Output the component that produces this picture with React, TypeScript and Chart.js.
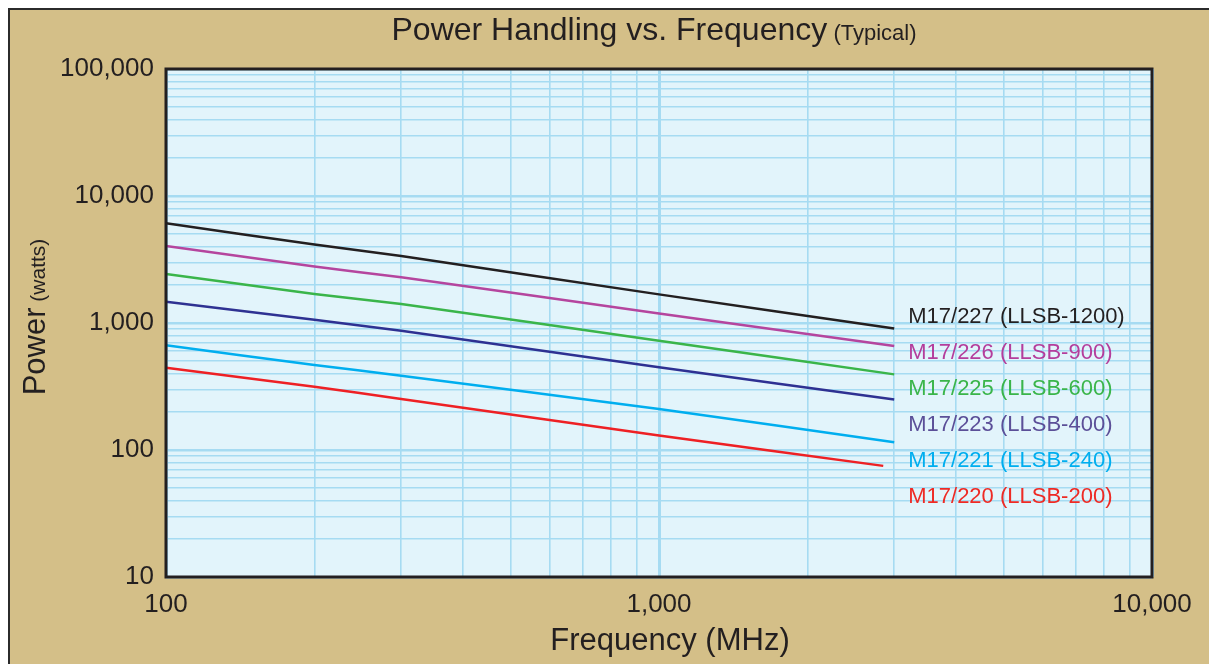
import React, { useEffect, useRef } from "react";
import { Chart, registerables } from "chart.js";

Chart.register(...registerables);

// ---- data ----
const frequencies = [100, 200, 300, 1000, 3000];
const redFrequencies = [100, 200, 300, 1000, 2850];

const seriesNames = [
  "M17/227 (LLSB-1200)",
  "M17/226 (LLSB-900)",
  "M17/225 (LLSB-600)",
  "M17/223 (LLSB-400)",
  "M17/221 (LLSB-240)",
  "M17/220 (LLSB-200)",
];
const m17_227 = [6100, 4150, 3370, 1680, 905];
const m17_226 = [4040, 2780, 2290, 1190, 660];
const m17_225 = [2430, 1690, 1410, 726, 394];
const m17_223 = [1470, 1060, 870, 448, 250];
const m17_221 = [667, 467, 385, 210, 115];
const m17_220 = [445, 315, 252, 130, 75];

const lineColors = ["#231f20", "#b5459e", "#3ab54a", "#2e3192", "#00aeef", "#ee2024"];
const labelColors = ["#231f20", "#b43d9c", "#3ab54a", "#5b4f98", "#00aeef", "#ee2a24"];

const xMajorTicks = [100, 1000, 10000];
const yMajorTicks = [10, 100, 1000, 10000, 100000];
const multipliers = [1, 2, 3, 4, 5, 6, 7, 8, 9];

const FONT = "'Liberation Sans', Arial, Helvetica, sans-serif";
const TAN = "#d4bf88";
const PLOT_BG = "#e2f4fb";
const GRID = "#a6dbf2";
const DARK = "#231f20";

function buildTicks(majors: number[]) {
  const out: number[] = [];
  majors.forEach((m, i) => {
    if (i === majors.length - 1) {
      out.push(m);
    } else {
      multipliers.forEach((k) => out.push(m * k));
    }
  });
  return out;
}

const isMajor = (v: number, majors: number[]) => majors.some((m) => Math.abs(m - v) < 1e-6);

const customPlugin = {
  id: "customDecor",
  beforeDraw(chart: any) {
    const { ctx, chartArea } = chart;
    ctx.save();
    ctx.fillStyle = TAN;
    ctx.fillRect(0, 0, chart.width, chart.height);
    ctx.fillStyle = PLOT_BG;
    ctx.fillRect(chartArea.left, chartArea.top, chartArea.right - chartArea.left, chartArea.bottom - chartArea.top);
    ctx.restore();
  },
  afterDraw(chart: any) {
    const { ctx, chartArea, scales } = chart;
    ctx.save();
    // plot border
    ctx.strokeStyle = DARK;
    ctx.lineWidth = 3;
    ctx.strokeRect(chartArea.left, chartArea.top, chartArea.right - chartArea.left, chartArea.bottom - chartArea.top);

    // title
    ctx.fillStyle = DARK;
    ctx.textBaseline = "middle";
    const t1 = "Power Handling vs. Frequency";
    const t2 = " (Typical)";
    ctx.font = `32px ${FONT}`;
    const w1 = ctx.measureText(t1).width;
    ctx.font = `22px ${FONT}`;
    const w2 = ctx.measureText(t2).width;
    const cx = (chartArea.left + chartArea.right) / 2 - 5;
    const sx = cx - (w1 + w2) / 2;
    ctx.textAlign = "left";
    ctx.font = `32px ${FONT}`;
    ctx.fillText(t1, sx, 21);
    ctx.font = `22px ${FONT}`;
    ctx.fillText(t2, sx + w1, 24);

    // x axis title
    ctx.font = `31px ${FONT}`;
    ctx.textAlign = "center";
    ctx.fillText("Frequency (MHz)", (chartArea.left + chartArea.right) / 2 + 11, 631);

    // y axis title (rotated)
    ctx.save();
    ctx.translate(26, (chartArea.top + chartArea.bottom) / 2);
    ctx.rotate(-Math.PI / 2);
    const y1 = "Power";
    const y2 = " (watts)";
    ctx.font = `31px ${FONT}`;
    const yw1 = ctx.measureText(y1).width;
    ctx.font = `21px ${FONT}`;
    const yw2 = ctx.measureText(y2).width;
    const ys = -(yw1 + yw2) / 2 + 6;
    ctx.textAlign = "left";
    ctx.font = `31px ${FONT}`;
    ctx.fillText(y1, ys, 0);
    ctx.font = `21px ${FONT}`;
    ctx.fillText(y2, ys + yw1, 3);
    ctx.restore();

    // series labels
    const xs = scales.x;
    const ysc = scales.y;
    const lx = xs.getPixelForValue(frequencies[frequencies.length - 1]) + 14;
    const ly0 = ysc.getPixelForValue(m17_227[m17_227.length - 1]) - 12;
    ctx.font = `22px ${FONT}`;
    ctx.textAlign = "left";
    ctx.textBaseline = "middle";
    seriesNames.forEach((name, i) => {
      ctx.fillStyle = labelColors[i];
      ctx.fillText(name, lx, ly0 + i * 36);
    });
    ctx.restore();
  },
};

export default function App() {
  const canvasRef = useRef<HTMLCanvasElement | null>(null);

  useEffect(() => {
    if (!canvasRef.current) return;
    const allSeries = [m17_227, m17_226, m17_225, m17_223, m17_221, m17_220];
    const datasets = allSeries.map((vals, i) => {
      const fx = i === 5 ? redFrequencies : frequencies;
      return {
        label: seriesNames[i],
        data: vals.map((v, j) => ({ x: fx[j], y: v })),
        borderColor: lineColors[i],
        backgroundColor: lineColors[i],
        borderWidth: 2.5,
        pointRadius: 0,
        tension: 0.15,
        fill: false,
      };
    });

    const xTicks = buildTicks(xMajorTicks);
    const yTicks = buildTicks(yMajorTicks);

    const chart = new Chart(canvasRef.current, {
      type: "line",
      data: { datasets },
      plugins: [customPlugin],
      options: {
        animation: false,
        responsive: false,
        devicePixelRatio: 1,
        layout: { padding: { top: 59, right: 65, left: 0, bottom: 0 } },
        plugins: { legend: { display: false }, tooltip: { enabled: false } },
        scales: {
          x: {
            type: "logarithmic",
            min: 100,
            max: 10000,
            afterBuildTicks: (scale: any) => {
              scale.ticks = xTicks.map((v) => ({ value: v }));
            },
            afterFit: (scale: any) => {
              scale.height = 87;
            },
            ticks: {
              autoSkip: false,
              maxRotation: 0,
              padding: 12,
              color: DARK,
              font: { family: FONT, size: 26 },
              callback: (value: any) => (isMajor(Number(value), xMajorTicks) ? Number(value).toLocaleString("en-US") : ""),
            },
            grid: {
              drawTicks: false,
              color: GRID,
              lineWidth: (c: any) => (c.tick && isMajor(c.tick.value, xMajorTicks) ? 3 : 1.6),
            },
            border: { display: false },
          },
          y: {
            type: "logarithmic",
            min: 10,
            max: 100000,
            afterBuildTicks: (scale: any) => {
              scale.ticks = yTicks.map((v) => ({ value: v }));
            },
            afterFit: (scale: any) => {
              scale.width = 156;
            },
            ticks: {
              autoSkip: false,
              padding: 12,
              color: DARK,
              font: { family: FONT, size: 26 },
              callback: (value: any) => (isMajor(Number(value), yMajorTicks) ? Number(value).toLocaleString("en-US") : ""),
            },
            grid: {
              drawTicks: false,
              color: GRID,
              lineWidth: (c: any) => (c.tick && isMajor(c.tick.value, yMajorTicks) ? 2.5 : 1.6),
            },
            border: { display: false },
          },
        },
      },
    } as any);

    return () => chart.destroy();
  }, []);

  return (
    <div
      style={{
        width: 1207,
        height: 654,
        borderTop: "2px solid #2b2b2b",
        borderLeft: "2px solid #2b2b2b",
        background: TAN,
      }}
    >
      <canvas ref={canvasRef} width={1207} height={654} style={{ display: "block", width: 1207, height: 654 }} />
    </div>
  );
}
